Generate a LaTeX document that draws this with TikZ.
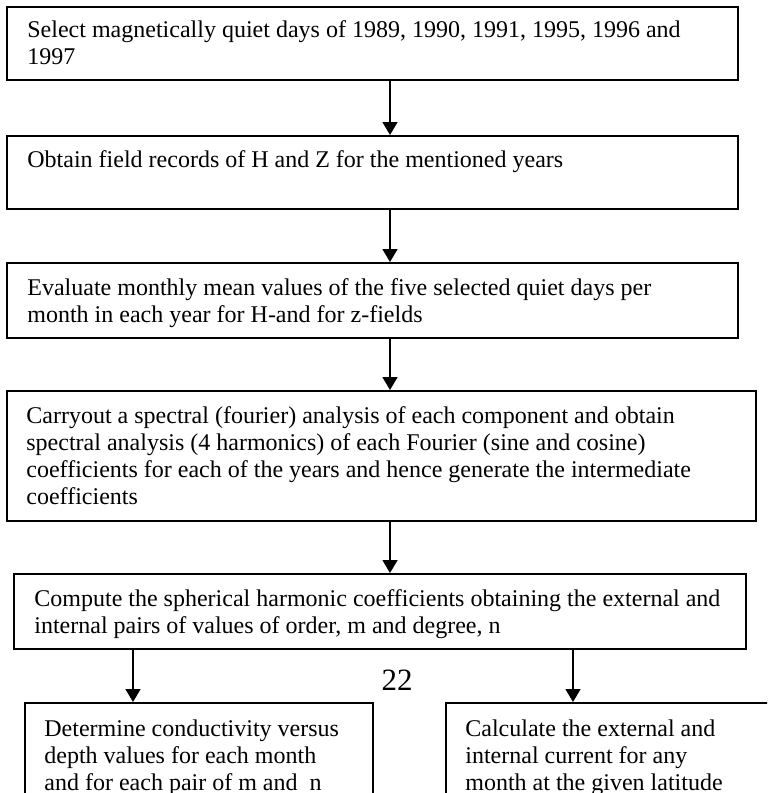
\documentclass[tikz,border=0pt]{standalone}
\usepackage{fontspec}
\setmainfont{Liberation Serif}
\usetikzlibrary{arrows.meta}

\begin{document}
\begin{tikzpicture}[
    x=0.5pt, y=-0.5pt, % one unit is one pixel of the page, y runs down
    >={Triangle[length=6.5pt, width=7.5pt]}, % Set default arrow tip style
    flowbox/.style={draw, line width=1pt, anchor=north west, inner sep=0pt}, % Style for the boxes
    boxtext/.style={anchor=base west, align=left, inner sep=0pt, font=\fontsize{12}{13.5}\selectfont}, % Style for the box texts (anchored at the last line)
    flowarrow/.style={->, line width=0.75pt}, % Style for the arrows
    pagenum/.style={anchor=base, inner sep=0pt, font=\fontsize{15.5}{18}\selectfont} % Style for the page number
]

    % Page
    \clip (0,0) rectangle (767,793);

    % Where the arrows run
    \coordinate (spine) at (390,0);
    \coordinate (leftdrop) at (133,0);
    \coordinate (rightdrop) at (573,0);

    % Boxes
    \node[flowbox, minimum width=365.5pt, minimum height=36.5pt] (select) at (6,6) {};
    \node[flowbox, minimum width=365.5pt, minimum height=36.5pt] (obtain) at (6,135) {};
    \node[flowbox, minimum width=365.5pt, minimum height=37.5pt] (evaluate) at (6,262) {};
    \node[flowbox, minimum width=374.5pt, minimum height=65pt] (carryout) at (6,390) {};
    \node[flowbox, minimum width=366pt, minimum height=37.5pt] (compute) at (13,573) {};
    \node[flowbox, minimum width=174pt, minimum height=60pt] (determine) at (24,702) {};
    \node[flowbox, minimum width=174pt, minimum height=60pt] (calculate) at (445,702) {};

    % Texts (placed at the baseline of their last line)
    \node[boxtext] (selecttext) at ([shift={(21,58)}]select.north west)
        {Select magnetically quiet days of 1989, 1990, 1991, 1995, 1996 and\\1997};
    \node[boxtext] (obtaintext) at ([shift={(21,32)}]obtain.north west)
        {Obtain field records of H and Z for the mentioned years};
    \node[boxtext] (evaluatetext) at ([shift={(21,60)}]evaluate.north west)
        {Evaluate monthly mean values of the five selected quiet days per\\month in each year for H-and for z-fields};
    \node[boxtext] (carryouttext) at ([shift={(20,114)}]carryout.north west)
        {Carryout a spectral (fourier) analysis of each component and obtain\\spectral analysis (4 harmonics) of each Fourier (sine and cosine)\\coefficients for each of the years and hence generate the intermediate\\coefficients};
    \node[boxtext] (computetext) at ([shift={(21,60)}]compute.north west)
        {Compute the spherical harmonic coefficients obtaining the external and\\internal pairs of values of order, m and degree, n};
    \node[boxtext] (determinetext) at ([shift={(20,88)}]determine.north west)
        {Determine conductivity versus\\depth values for each month\\and for each pair of m and~ n};
    \node[boxtext] (calculatetext) at ([shift={(20,88)}]calculate.north west)
        {Calculate the external and\\internal current for any\\month at the given latitude};

    % Page number
    \node[pagenum] (pageno) at (397,690) {22};

    % Arrows
    \draw[flowarrow] (select.south -| spine) -- (obtain.north -| spine);
    \draw[flowarrow] (obtain.south -| spine) -- (evaluate.north -| spine);
    \draw[flowarrow] (evaluate.south -| spine) -- (carryout.north -| spine);
    \draw[flowarrow] (carryout.south -| spine) -- (compute.north -| spine);
    \draw[flowarrow] (compute.south -| leftdrop) -- (determine.north -| leftdrop);
    \draw[flowarrow] (compute.south -| rightdrop) -- (calculate.north -| rightdrop);

\end{tikzpicture}
\end{document}
